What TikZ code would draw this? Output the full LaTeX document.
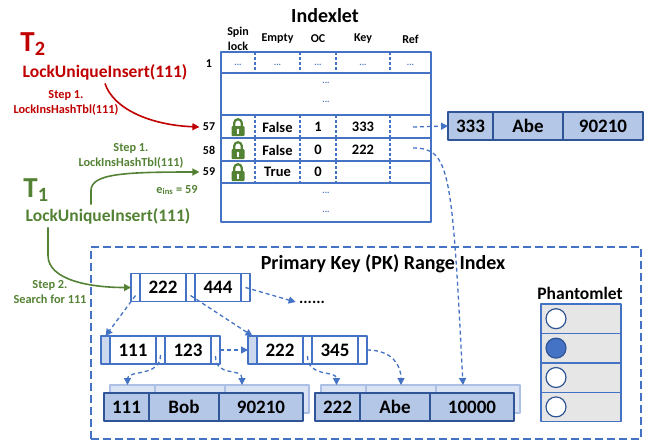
\documentclass[tikz,border=0pt]{standalone}
\usepackage{fontspec}
\setmainfont{Carlito}
\usetikzlibrary{positioning,arrows.meta}
\definecolor{kblue}{HTML}{4472C4}
\definecolor{kdark}{HTML}{2F5597}
\definecolor{kfill}{HTML}{B4C7E7}
\definecolor{klight}{HTML}{DAE3F3}
\definecolor{kred}{HTML}{C00000}
\definecolor{kgreen}{HTML}{548235}
\definecolor{kgray}{HTML}{E7E6E6}
\tikzset{
index/.style={>={Triangle[length=7pt,width=7pt]},x=1pt,y=-1pt,line join=round},
title/.style={font=\fontsize{20}{24}\selectfont\bfseries},
hdr/.style={font=\fontsize{12}{15}\selectfont\bfseries,align=center},
cellt/.style={font=\fontsize{14.5}{17}\selectfont\bfseries},
num/.style={font=\fontsize{12}{14}\selectfont\bfseries},
bdots/.style={font=\fontsize{9}{10}\selectfont\bfseries,text=kblue,inner sep=1pt},
op/.style={font=\fontsize{17.5}{20}\selectfont\bfseries},
stepl/.style={font=\fontsize{12.3}{14.5}\selectfont\bfseries,align=center},
tname/.style={font=\fontsize{29}{32}\selectfont\bfseries},
row/.style={draw=kblue,line width=1.5pt,minimum width=210pt,inner sep=0,outer sep=0},
coldash/.style={draw=kblue,line width=1.2pt,dash pattern=on 3pt off 2pt},
rec/.style={draw=kdark,fill=kfill,line width=1.4pt,minimum height=28pt,inner sep=0,outer sep=0,
  font=\fontsize{19}{22}\selectfont\bfseries},
shad/.style={draw=kblue!45,fill=klight,line width=1.2pt,minimum height=28pt,inner sep=0,outer sep=0},
ptr/.style={draw=kblue,fill=white,line width=1.4pt,minimum width=9pt,minimum height=28pt,
  inner sep=0,outer sep=0},
key/.style={ptr,minimum width=46pt,font=\fontsize{19}{22}\selectfont\bfseries},
pkbox/.style={draw=kblue,line width=1.5pt,dash pattern=on 8pt off 4pt,minimum width=550pt,
  minimum height=192pt,inner sep=0},
phrow/.style={draw=kblue,fill=kgray,line width=1.4pt,minimum width=80pt,minimum height=29.4pt,
  inner sep=0,outer sep=0},
phcirc/.style={circle,draw=kdark,line width=1.2pt,minimum size=20pt,inner sep=0},
dasharr/.style={->,draw=kblue,line width=1.3pt,dash pattern=on 4pt off 3pt},
redarr/.style={->,draw=kred,line width=1.6pt},
greenarr/.style={->,draw=kgreen,line width=1.6pt},
padlock/.pic={
  \draw[kgreen,line width=2.2pt] (-3.8,0) -- (-3.8,-4) arc[start angle=180,end angle=360,radius=3.8] -- (3.8,0);
  \fill[kgreen,rounded corners=1pt] (-6.5,-1) rectangle (6.5,9);
  \fill[white] (0,3) circle (1.4);
  \fill[white] (-0.6,3) rectangle (0.6,6.5);
}
}

\begin{document}
\begin{tikzpicture}[index]
\useasboundingbox (0,0) rectangle (650,440);

% Indexlet
\node[title] (idx) at (325,16) {Indexlet};
\node[hdr] (hspin) at (238,39) {Spin\\lock};
\node[hdr] (hempty) at (277.5,39) {Empty};
\node[hdr] (hoc) at (318,39) {OC};
\node[hdr] (hkey) at (363,39) {Key};
\node[hdr] (href) at (410.5,39) {Ref};

\node[row,minimum height=21pt] (row1) at (326,62.5) {};
\node[row,minimum height=42pt] (dots1) at (326,94) {};
\node[row,minimum height=23pt] (row57) at (326,126.5) {};
\node[row,minimum height=23pt] (row58) at (326,149.5) {};
\node[row,minimum height=22pt] (row59) at (326,172) {};
\node[row,minimum height=39pt] (dots2) at (326,202.5) {};
\foreach \t/\b in {52/73,115/138,138/161,161/183}
  \foreach \x in {255,300,336,390}
    \draw[coldash] (\x,\t) -- (\x,\b);

\foreach \x [count=\i] in {238,277.5,318,363,410.5}
  \node[bdots] (d\i) at (\x,65) {...};
\node[bdots] (d6) at (326,83) {...};
\node[bdots] (d7) at (326,102) {...};
\node[bdots] (d8) at (326,193) {...};
\node[bdots] (d9) at (326,212) {...};

\node[num] (n1) at (209,64) {1};
\node[num] (n57) at (209,127) {57};
\node[num] (n58) at (209,150) {58};
\node[num] (n59) at (209,172) {59};

\pic at (238,127) {padlock};
\pic at (238,150) {padlock};
\pic at (238,172) {padlock};
\node[cellt] (e57) at (277.5,127) {False};
\node[cellt] (o57) at (318,127) {1};
\node[cellt] (k57) at (363,127) {333};
\node[cellt] (e58) at (277.5,150) {False};
\node[cellt] (o58) at (318,150) {0};
\node[cellt] (k58) at (363,150) {222};
\node[cellt] (e59) at (277.5,172) {True};
\node[cellt] (o59) at (318,172) {0};
\coordinate (ref57) at (413,127);
\coordinate (ref58) at (413,148);

% record pointed by row 57
\node[rec,minimum width=45pt] (a333) at (470.5,126) {333};
\node[rec,minimum width=70pt,right=0pt of a333] (aAbe) {Abe};
\node[rec,minimum width=80pt,right=0pt of aAbe] (a90210) {90210};

% transactions
\node[tname,text=kred] (t2) at (33,44) {T\textsubscript{2}};
\node[op,text=kred] (t2op) at (105,72) {LockUniqueInsert(111)};
\node[stepl,text=kred] (t2s) at (66,103) {Step 1.\\LockInsHashTbl(111)};
\node[tname,text=kgreen] (t1) at (36,190) {T\textsubscript{1}};
\node[op,text=kgreen] (t1op) at (108,216) {LockUniqueInsert(111)};
\node[stepl,text=kgreen] (t1s) at (131,156) {Step 1.\\LockInsHashTbl(111)};
\node[stepl,text=kgreen] (eins) at (177,190) {e\textsubscript{ins} = 59};
\node[stepl,text=kgreen] (s2) at (50,292) {Step 2.\\Search for 111};

% PK range index
\node[pkbox] (pk) at (366,343) {};
\node[title] (pktitle) at (383,264) {Primary Key (PK) Range Index};

\node[ptr] (p0) at (135.5,287.5) {};
\node[key,right=0pt of p0] (k222) {222};
\node[ptr,right=0pt of k222] (p1) {};
\node[key,right=0pt of p1] (k444) {444};
\node[ptr,right=0pt of k444] (p2) {};
\node[font=\fontsize{16}{18}\selectfont\bfseries] (more) at (312,302) {......};

\node[ptr,fill=kfill!70] (lp0) at (105.5,350) {};
\node[key,right=0pt of lp0] (l111) {111};
\node[ptr,right=0pt of l111] (lp1) {};
\node[key,right=0pt of lp1] (l123) {123};
\node[ptr,right=0pt of l123] (lp2) {};

\node[ptr,fill=kfill!70] (rp0) at (252.5,350) {};
\node[key,right=0pt of rp0] (r222) {222};
\node[ptr,right=0pt of r222] (rp1) {};
\node[key,right=0pt of rp1] (r345) {345};
\node[ptr,right=0pt of r345] (rp2) {};

\node[shad,minimum width=45pt] (s111) at (132.5,399) {};
\node[shad,minimum width=70pt,right=0pt of s111] (sBob) {};
\node[shad,minimum width=84pt,right=0pt of sBob] (s90210) {};
\node[rec,minimum width=45pt] (b111) at (126.5,407) {111};
\node[rec,minimum width=70pt,right=0pt of b111] (bBob) {Bob};
\node[rec,minimum width=84pt,right=0pt of bBob] (b90210) {90210};

\node[shad,minimum width=45pt] (s222) at (343.5,399) {};
\node[shad,minimum width=70pt,right=0pt of s222] (sAbe) {};
\node[shad,minimum width=84pt,right=0pt of sAbe] (s10000) {};
\node[rec,minimum width=45pt] (c222) at (337.5,407) {222};
\node[rec,minimum width=70pt,right=0pt of c222] (cAbe) {Abe};
\node[rec,minimum width=84pt,right=0pt of cAbe] (c10000) {10000};

% Phantomlet
\node[op] (ph) at (580,293) {Phantomlet};
\foreach \i in {1,...,4}
  \node[phrow] (slot\i) at (581,{304+29.4*(\i-0.5)}) {};
\foreach \i/\f in {1/white,2/kblue,3/white,4/white}
  \node[phcirc,fill=\f] (dot\i) at ([xshift=15pt]slot\i.west) {};

% arrows
\draw[redarr] (t2op.south) .. controls +(8,25) and +(-50,-2) .. (n57.west);
\draw[greenarr] ([xshift=-17pt]t1op.north) -- ++(0,-14) .. controls +(0,-17) and +(-75,0) .. (n59.west);
\draw[greenarr] ([xshift=-60pt]t1op.south) -- ++(0,28) .. controls +(0,25) and +(-40,0) .. (p0.west);

\draw[dasharr] (ref57) -- (a333.west);
\draw[dasharr] (ref58) .. controls (450,148) and (452,170) .. ([xshift=-15pt]s10000.north);
\draw[dasharr] ([yshift=-8pt]p0.center) -- (lp0.north);
\draw[dasharr] ([yshift=-8pt]p1.center) -- (rp0.north);
\draw[dasharr] (p2.center) -- (more.west);
\draw[dasharr] (lp2.east) -- (rp0.west);
\draw[dasharr] ([yshift=-5pt]lp1.center) .. controls +(0,22) and +(0,-15) .. ([xshift=-5pt]s111.north);
\draw[dasharr] ([yshift=-6pt]lp2.center) .. controls +(0,22) and +(0,-18) .. ([xshift=-25pt]s90210.north);
\draw[dasharr] ([yshift=-6pt]rp1.center) .. controls +(0,22) and +(0,-15) .. ([xshift=-7pt]s222.north);
\draw[dasharr] (rp2.east) .. controls +(25,0) and +(0,-20) .. (sAbe.north);
\end{tikzpicture}
\end{document}
